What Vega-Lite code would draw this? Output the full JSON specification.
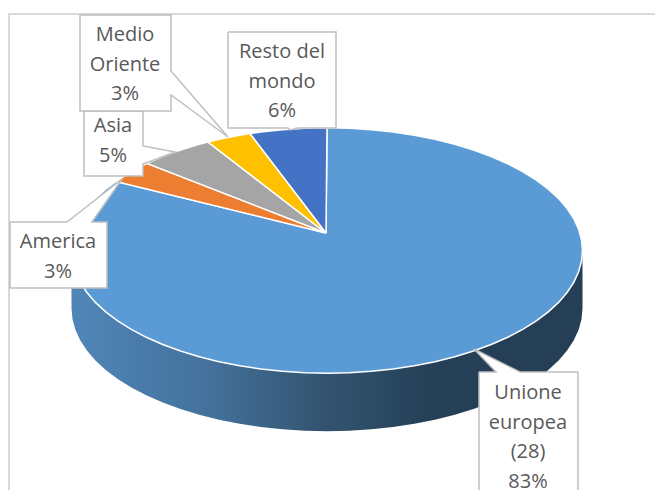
{"$schema":"https://vega.github.io/schema/vega-lite/v6.json","width":655,"height":490,"padding":0,"autosize":{"type":"none"},"background":"white","config":{"view":{"stroke":null}},
"datasets":{
"side":[{"x":71.5,"y":250.5,"y2":308.5},{"x":72.5,"y":261.2,"y2":319.2},{"x":75.4,"y":271.8,"y2":329.8},{"x":80.2,"y":282.3,"y2":340.3},{"x":86.9,"y":292.5,"y2":350.5},{"x":95.4,"y":302.4,"y2":360.4},{"x":105.7,"y":311.9,"y2":369.9},{"x":117.7,"y":320.9,"y2":378.9},{"x":131.3,"y":329.4,"y2":387.4},{"x":146.3,"y":337.3,"y2":395.3},{"x":162.8,"y":344.5,"y2":402.5},{"x":180.5,"y":351,"y2":409},{"x":199.2,"y":356.8,"y2":414.8},{"x":219,"y":361.7,"y2":419.7},{"x":239.6,"y":365.8,"y2":423.8},{"x":260.9,"y":369,"y2":427},{"x":282.6,"y":371.3,"y2":429.3},{"x":304.7,"y":372.7,"y2":430.7},{"x":327,"y":373.2,"y2":431.2},{"x":349.3,"y":372.7,"y2":430.7},{"x":371.4,"y":371.3,"y2":429.3},{"x":393.1,"y":369,"y2":427},{"x":414.4,"y":365.8,"y2":423.8},{"x":435,"y":361.7,"y2":419.7},{"x":454.8,"y":356.8,"y2":414.8},{"x":473.5,"y":351,"y2":409},{"x":491.2,"y":344.5,"y2":402.5},{"x":507.7,"y":337.3,"y2":395.3},{"x":522.7,"y":329.4,"y2":387.4},{"x":536.3,"y":320.9,"y2":378.9},{"x":548.3,"y":311.9,"y2":369.9},{"x":558.6,"y":302.4,"y2":360.4},{"x":567.1,"y":292.5,"y2":350.5},{"x":573.8,"y":282.3,"y2":340.3},{"x":578.6,"y":271.8,"y2":329.8},{"x":581.5,"y":261.2,"y2":319.2},{"x":582.5,"y":250.5,"y2":308.5}],
"eu":[{"x":326,"y":233},{"x":116,"y":181.5},{"x":105.7,"y":189.1},{"x":95.4,"y":198.6},{"x":86.9,"y":208.5},{"x":80.2,"y":218.7},{"x":75.4,"y":229.2},{"x":72.5,"y":239.8},{"x":71.5,"y":250.5},{"x":72.5,"y":261.2},{"x":75.4,"y":271.8},{"x":80.2,"y":282.3},{"x":86.9,"y":292.5},{"x":95.4,"y":302.4},{"x":105.7,"y":311.9},{"x":117.7,"y":320.9},{"x":131.3,"y":329.4},{"x":146.3,"y":337.3},{"x":162.8,"y":344.5},{"x":180.5,"y":351},{"x":199.2,"y":356.8},{"x":219,"y":361.7},{"x":239.6,"y":365.8},{"x":260.9,"y":369},{"x":282.6,"y":371.3},{"x":304.7,"y":372.7},{"x":327,"y":373.2},{"x":349.3,"y":372.7},{"x":371.4,"y":371.3},{"x":393.1,"y":369},{"x":414.4,"y":365.8},{"x":435,"y":361.7},{"x":454.8,"y":356.8},{"x":473.5,"y":351},{"x":491.2,"y":344.5},{"x":507.7,"y":337.3},{"x":522.7,"y":329.4},{"x":536.3,"y":320.9},{"x":548.3,"y":311.9},{"x":558.6,"y":302.4},{"x":567.1,"y":292.5},{"x":573.8,"y":282.3},{"x":578.6,"y":271.8},{"x":581.5,"y":261.2},{"x":582.5,"y":250.5},{"x":581.5,"y":239.8},{"x":578.6,"y":229.2},{"x":573.8,"y":218.7},{"x":567.1,"y":208.5},{"x":558.6,"y":198.6},{"x":548.3,"y":189.1},{"x":536.3,"y":180.1},{"x":522.7,"y":171.6},{"x":507.7,"y":163.7},{"x":491.2,"y":156.5},{"x":473.5,"y":150},{"x":454.8,"y":144.2},{"x":435,"y":139.3},{"x":414.4,"y":135.2},{"x":393.1,"y":132},{"x":371.4,"y":129.7},{"x":349.3,"y":128.3},{"x":327,"y":127.8},{"x":326,"y":233}],
"others":[
{"s":"America","x":326,"y":233},{"s":"America","x":147,"y":163.4},{"s":"America","x":131.3,"y":171.6},{"s":"America","x":116,"y":181.5},{"s":"America","x":326,"y":233},
{"s":"Asia","x":326,"y":233},{"s":"Asia","x":208,"y":142},{"s":"Asia","x":199.2,"y":144.2},{"s":"Asia","x":180.5,"y":150},{"s":"Asia","x":162.8,"y":156.5},{"s":"Asia","x":147,"y":163.4},{"s":"Asia","x":326,"y":233},
{"s":"Medio Oriente","x":326,"y":233},{"s":"Medio Oriente","x":250,"y":133.5},{"s":"Medio Oriente","x":239.6,"y":135.2},{"s":"Medio Oriente","x":219,"y":139.3},{"s":"Medio Oriente","x":208,"y":142},{"s":"Medio Oriente","x":326,"y":233},
{"s":"Resto del mondo","x":326,"y":233},{"s":"Resto del mondo","x":327,"y":127.8},{"s":"Resto del mondo","x":304.7,"y":128.3},{"s":"Resto del mondo","x":282.6,"y":129.7},{"s":"Resto del mondo","x":260.9,"y":132},{"s":"Resto del mondo","x":250,"y":133.5},{"s":"Resto del mondo","x":326,"y":233}],
"callouts":[
{"c":"a America","x":10,"y":222},{"c":"a America","x":67,"y":222},{"c":"a America","x":122,"y":179},{"c":"a America","x":92,"y":222},{"c":"a America","x":107,"y":222},{"c":"a America","x":107,"y":288},{"c":"a America","x":10,"y":288},{"c":"a America","x":10,"y":222},
{"c":"b Asia","x":84,"y":111},{"c":"b Asia","x":143,"y":111},{"c":"b Asia","x":143,"y":146},{"c":"b Asia","x":175,"y":152},{"c":"b Asia","x":143,"y":164},{"c":"b Asia","x":143,"y":176},{"c":"b Asia","x":84,"y":176},{"c":"b Asia","x":84,"y":111},
{"c":"c Medio","x":80,"y":15},{"c":"c Medio","x":171,"y":15},{"c":"c Medio","x":171,"y":71},{"c":"c Medio","x":228,"y":137},{"c":"c Medio","x":171,"y":95},{"c":"c Medio","x":171,"y":111},{"c":"c Medio","x":80,"y":111},{"c":"c Medio","x":80,"y":15},
{"c":"d Resto","x":228,"y":32},{"c":"d Resto","x":336,"y":32},{"c":"d Resto","x":336,"y":128},{"c":"d Resto","x":298,"y":128},{"c":"d Resto","x":290,"y":130},{"c":"d Resto","x":288,"y":128},{"c":"d Resto","x":228,"y":128},{"c":"d Resto","x":228,"y":32},
{"c":"e Unione","x":479,"y":372},{"c":"e Unione","x":496,"y":372},{"c":"e Unione","x":474,"y":349},{"c":"e Unione","x":520,"y":372},{"c":"e Unione","x":578,"y":372},{"c":"e Unione","x":578,"y":500},{"c":"e Unione","x":479,"y":500},{"c":"e Unione","x":479,"y":372}],
"labels":[{"t":"Resto del\nmondo\n6%","x":282,"y":52},{"t":"Medio\nOriente\n3%","x":125,"y":35},{"t":"Asia\n5%","x":113,"y":126},{"t":"America\n3%","x":58,"y":242},{"t":"Unione\neuropea\n(28)\n83%","x":528,"y":393}],
"frame":[{"x":9,"x2":800,"y":14,"y2":800}]
},
"layer":[
{"data":{"name":"frame"},"mark":{"type":"rect","fill":null,"stroke":"#d9d9d9","strokeWidth":2,"clip":true},"encoding":{"x":{"field":"x","type":"quantitative","scale":{"domain":[0,655],"nice":false,"zero":false},"axis":null},"x2":{"field":"x2"},"y":{"field":"y","type":"quantitative","scale":{"domain":[490,0],"nice":false,"zero":false},"axis":null},"y2":{"field":"y2"}}},
{"data":{"name":"side"},"mark":{"type":"area","clip":true,"color":{"gradient":"linear","x1":0,"y1":0,"x2":1,"y2":0,"stops":[{"offset":0,"color":"#5086b8"},{"offset":0.25,"color":"#44739e"},{"offset":0.5,"color":"#32536f"},{"offset":0.72,"color":"#243f56"},{"offset":1,"color":"#243f56"}]}},"encoding":{"x":{"field":"x","type":"quantitative"},"y":{"field":"y","type":"quantitative"},"y2":{"field":"y2"}}},
{"data":{"name":"eu"},"transform":[{"window":[{"op":"row_number","as":"i"}]}],"mark":{"type":"line","fill":"#5b9bd5","stroke":"white","strokeWidth":1.5},"encoding":{"x":{"field":"x","type":"quantitative"},"y":{"field":"y","type":"quantitative"},"order":{"field":"i","type":"quantitative"}}},
{"data":{"name":"others"},"transform":[{"window":[{"op":"row_number","as":"i"}]},{"filter":"datum.s==='America'"}],"mark":{"type":"line","stroke":"white","strokeWidth":1.5,"fill":"#ed7d31"},"encoding":{"x":{"field":"x","type":"quantitative"},"y":{"field":"y","type":"quantitative"},"order":{"field":"i","type":"quantitative"}}},
{"data":{"name":"others"},"transform":[{"window":[{"op":"row_number","as":"i"}]},{"filter":"datum.s==='Asia'"}],"mark":{"type":"line","stroke":"white","strokeWidth":1.5,"fill":"#a5a5a5"},"encoding":{"x":{"field":"x","type":"quantitative"},"y":{"field":"y","type":"quantitative"},"order":{"field":"i","type":"quantitative"}}},
{"data":{"name":"others"},"transform":[{"window":[{"op":"row_number","as":"i"}]},{"filter":"datum.s==='Medio Oriente'"}],"mark":{"type":"line","stroke":"white","strokeWidth":1.5,"fill":"#ffc000"},"encoding":{"x":{"field":"x","type":"quantitative"},"y":{"field":"y","type":"quantitative"},"order":{"field":"i","type":"quantitative"}}},
{"data":{"name":"others"},"transform":[{"window":[{"op":"row_number","as":"i"}]},{"filter":"datum.s==='Resto del mondo'"}],"mark":{"type":"line","stroke":"white","strokeWidth":1.5,"fill":"#4472c4"},"encoding":{"x":{"field":"x","type":"quantitative"},"y":{"field":"y","type":"quantitative"},"order":{"field":"i","type":"quantitative"}}},
{"data":{"name":"callouts"},"transform":[{"window":[{"op":"row_number","as":"i"}]}],"mark":{"type":"line","stroke":"#bfbfbf","strokeWidth":1.5,"fill":"white","clip":true},"encoding":{"x":{"field":"x","type":"quantitative"},"y":{"field":"y","type":"quantitative"},"detail":{"field":"c"},"order":{"field":"i","type":"quantitative"}}},
{"data":{"name":"labels"},"mark":{"type":"text","font":"Open Sans","fontSize":20,"color":"#595959","lineBreak":"\n","lineHeight":29.5,"align":"center","baseline":"middle"},"encoding":{"x":{"field":"x","type":"quantitative"},"y":{"field":"y","type":"quantitative"},"text":{"field":"t"}}}
]}
